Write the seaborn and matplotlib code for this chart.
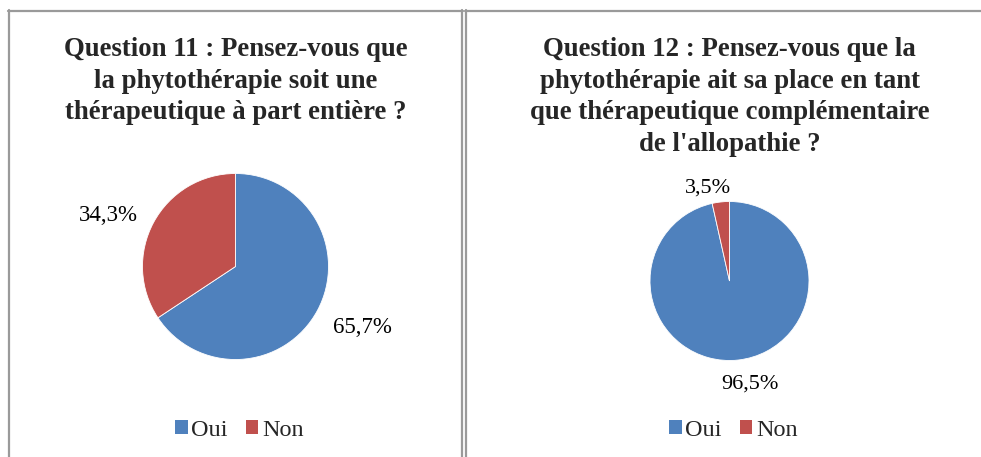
import matplotlib
matplotlib.use("Agg")
import matplotlib.pyplot as plt
from matplotlib.lines import Line2D
from matplotlib.patches import Patch
import seaborn as sns

categories = ["Oui", "Non"]
q11_values = [65.7, 34.3]
q12_values = [96.5, 3.5]
q11_title = "Question 11 : Pensez-vous que\nla phytothérapie soit une\nthérapeutique à part entière ?"
q12_title = ("Question 12 : Pensez-vous que la\nphytothérapie ait sa place en tant\n"
             "que thérapeutique complémentaire\nde l'allopathie ?")

sns.set_theme(style="white")
plt.rcParams["font.family"] = ["Liberation Serif", "DejaVu Serif"]
colors = sns.color_palette(["#4F81BD", "#C0504D"])

W, H = 981, 457
fig = plt.figure(figsize=(W / 100, H / 100), dpi=100)
fig.patch.set_facecolor("white")

def px_axes(cx, cy, r):
    return fig.add_axes([(cx - r) / W, 1 - (cy + r) / H, 2 * r / W, 2 * r / H])

def fmt(p):
    return f"{p:.1f}%".replace(".", ",")

def draw_pie(ax, values, label_pos, fs):
    wedges, texts, autotexts = ax.pie(
        values, colors=colors, startangle=90, counterclock=False,
        autopct=fmt, pctdistance=1.3, radius=1,
        wedgeprops=dict(linewidth=0.6, edgecolor="white"),
        textprops=dict(fontsize=fs, color="black"))
    for t, pos in zip(autotexts, label_pos):
        t.set_position(pos)
        t.set_ha("center")
        t.set_va("center")
    ax.set_xlim(-1, 1)
    ax.set_ylim(-1, 1)
    ax.set_aspect("equal")
    ax.axis("off")

# Pie 1
ax1 = px_axes(235.5, 266.5, 93)
draw_pie(ax1, q11_values, [(1.37, -0.655), (-1.367, 0.545)], 16.5)

# Pie 2
ax2 = px_axes(729.5, 281, 79.5)
draw_pie(ax2, q12_values, [(0.255, -1.29), (-0.27, 1.165)], 16)

# Titles
for cx, title in ((235.5, q11_title), (729.5, q12_title)):
    fig.text(cx / W, 1 - 37.5 / H, title, ha="center", va="top",
             fontsize=19.3, fontweight="bold", linespacing=1.34)

# Legends
handles = [Patch(facecolor=c, edgecolor="none") for c in colors]
for cx in (239.5, 733.5):
    fig.legend(handles, categories, loc="center", bbox_to_anchor=(cx / W, 1 - 430 / H),
               ncol=2, frameon=False, fontsize=17.5, handlelength=0.5, handleheight=0.5,
               handletextpad=0.16, columnspacing=0.74, borderpad=0, borderaxespad=0)

# Borders
bc = "#9a9a9a"
def hline(x0, x1, y):
    fig.add_artist(Line2D([x0 / W, x1 / W], [1 - y / H, 1 - y / H], color=bc, lw=1.6,
                          transform=fig.transFigure))
def vline(x, y0, y1):
    fig.add_artist(Line2D([x / W, x / W], [1 - y0 / H, 1 - y1 / H], color=bc, lw=1.6,
                          transform=fig.transFigure))
hline(8, 462.5, 10.5)
hline(465, W + 5, 10.5)
vline(8.5, 10, H + 5)
vline(462, 10, H + 5)
vline(465.5, 10, H + 5)

fig.savefig("out.png", dpi=100, facecolor="white")
